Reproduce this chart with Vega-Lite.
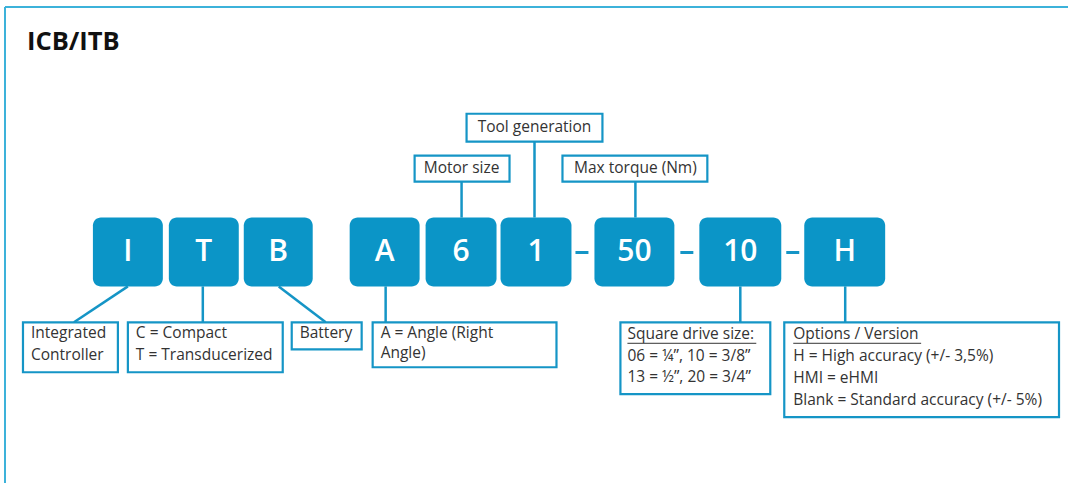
{
  "$schema": "https://vega.github.io/schema/vega-lite/v6.json",
  "width": 1069,
  "height": 484,
  "padding": 0,
  "autosize": {"type": "fit", "contains": "padding"},
  "background": "white",
  "config": {"view": {"stroke": null}},
  "datasets": {
    "frame": [
      {"x": 5, "y": 7, "x2": 5, "y2": 484},
      {"x": 5, "y": 7, "x2": 1069, "y2": 7}
    ],
    "connectors": [
      {"x": 128, "y": 287, "x2": 74, "y2": 323},
      {"x": 203, "y": 287, "x2": 203, "y2": 323},
      {"x": 279, "y": 287, "x2": 326, "y2": 323},
      {"x": 386, "y": 287, "x2": 386, "y2": 323},
      {"x": 741, "y": 287, "x2": 741, "y2": 323},
      {"x": 846, "y": 287, "x2": 846, "y2": 323},
      {"x": 462, "y": 182, "x2": 462, "y2": 218},
      {"x": 535, "y": 142, "x2": 535, "y2": 218},
      {"x": 636, "y": 182, "x2": 636, "y2": 218}
    ],
    "dashes": [
      {"x": 576, "x2": 589, "y": 253},
      {"x": 681, "x2": 694, "y": 253},
      {"x": 787, "x2": 800, "y": 253}
    ],
    "labelBoxes": [
      {"x": 23, "x2": 118, "y": 323, "y2": 373},
      {"x": 128, "x2": 283, "y": 323, "y2": 373},
      {"x": 292, "x2": 362, "y": 323, "y2": 350},
      {"x": 373, "x2": 557, "y": 323, "y2": 368},
      {"x": 621, "x2": 771, "y": 323, "y2": 395},
      {"x": 785, "x2": 1060, "y": 323, "y2": 418},
      {"x": 467, "x2": 603, "y": 114, "y2": 142},
      {"x": 415, "x2": 510, "y": 156, "y2": 182},
      {"x": 563, "x2": 708, "y": 156, "y2": 182}
    ],
    "codes": [
      {"code": "I", "x": 93, "x2": 163, "y": 218, "y2": 287},
      {"code": "T", "x": 169, "x2": 239, "y": 218, "y2": 287},
      {"code": "B", "x": 244, "x2": 313, "y": 218, "y2": 287},
      {"code": "A", "x": 350, "x2": 420, "y": 218, "y2": 287},
      {"code": "6", "x": 426, "x2": 497, "y": 218, "y2": 287},
      {"code": "1", "x": 501, "x2": 572, "y": 218, "y2": 287},
      {"code": "50", "x": 595, "x2": 675, "y": 218, "y2": 287},
      {"code": "10", "x": 700, "x2": 782, "y": 218, "y2": 287},
      {"code": "H", "x": 805, "x2": 886, "y": 218, "y2": 287}
    ],
    "leftText": [
      {"t": "Integrated", "x": 31, "y": 334},
      {"t": "Controller", "x": 31, "y": 356},
      {"t": "C = Compact", "x": 136, "y": 334},
      {"t": "T = Transducerized", "x": 136, "y": 356},
      {"t": "Battery", "x": 300, "y": 334},
      {"t": "A = Angle (Right", "x": 381, "y": 334},
      {"t": "Angle)", "x": 381, "y": 354},
      {"t": "Square drive size:", "x": 628, "y": 335},
      {"t": "06 = ¼”, 10 = 3/8”", "x": 628, "y": 357},
      {"t": "13 = ½”, 20 = 3/4”", "x": 628, "y": 378},
      {"t": "Options / Version", "x": 794, "y": 335},
      {"t": "H = High accuracy (+/- 3,5%)", "x": 794, "y": 357},
      {"t": "HMI = eHMI", "x": 794, "y": 379},
      {"t": "Blank = Standard accuracy (+/- 5%)", "x": 794, "y": 401}
    ],
    "underlines": [
      {"x": 628, "x2": 757, "y": 344},
      {"x": 794, "x2": 922, "y": 344}
    ],
    "topText": [
      {"t": "Tool generation", "x": 535, "y": 127},
      {"t": "Motor size", "x": 462, "y": 168},
      {"t": "Max torque (Nm)", "x": 636, "y": 168}
    ],
    "title": [
      {"t": "ICB/ITB", "x": 27, "y": 50}
    ]
  },
  "layer": [
    {
      "data": {"name": "frame"},
      "mark": {"type": "rule", "color": "#3cb2da", "strokeWidth": 2},
      "encoding": {
        "x": {"field": "x", "type": "quantitative", "scale": {"domain": [0, 1069], "nice": false, "zero": false}, "axis": null},
        "y": {"field": "y", "type": "quantitative", "scale": {"domain": [0, 484], "nice": false, "zero": false, "reverse": true}, "axis": null},
        "x2": {"field": "x2"},
        "y2": {"field": "y2"}
      }
    },
    {
      "data": {"name": "connectors"},
      "mark": {"type": "rule", "color": "#1595c6", "strokeWidth": 2.5},
      "encoding": {
        "x": {"field": "x", "type": "quantitative", "scale": {"domain": [0, 1069], "nice": false, "zero": false}, "axis": null},
        "y": {"field": "y", "type": "quantitative", "scale": {"domain": [0, 484], "nice": false, "zero": false, "reverse": true}, "axis": null},
        "x2": {"field": "x2"},
        "y2": {"field": "y2"}
      }
    },
    {
      "data": {"name": "dashes"},
      "mark": {"type": "rule", "color": "#1595c6", "strokeWidth": 3},
      "encoding": {
        "x": {"field": "x", "type": "quantitative", "scale": {"domain": [0, 1069], "nice": false, "zero": false}, "axis": null},
        "y": {"field": "y", "type": "quantitative", "scale": {"domain": [0, 484], "nice": false, "zero": false, "reverse": true}, "axis": null},
        "x2": {"field": "x2"}
      }
    },
    {
      "data": {"name": "labelBoxes"},
      "mark": {"type": "rect", "fill": "white", "stroke": "#1595c6", "strokeWidth": 2.2},
      "encoding": {
        "x": {"field": "x", "type": "quantitative", "scale": {"domain": [0, 1069], "nice": false, "zero": false}, "axis": null},
        "y": {"field": "y", "type": "quantitative", "scale": {"domain": [0, 484], "nice": false, "zero": false, "reverse": true}, "axis": null},
        "x2": {"field": "x2"},
        "y2": {"field": "y2"}
      }
    },
    {
      "data": {"name": "codes"},
      "mark": {"type": "rect", "fill": "#0b95c7", "cornerRadius": 8},
      "encoding": {
        "x": {"field": "x", "type": "quantitative", "scale": {"domain": [0, 1069], "nice": false, "zero": false}, "axis": null},
        "y": {"field": "y", "type": "quantitative", "scale": {"domain": [0, 484], "nice": false, "zero": false, "reverse": true}, "axis": null},
        "x2": {"field": "x2"},
        "y2": {"field": "y2"}
      }
    },
    {
      "data": {"name": "codes"},
      "transform": [
        {"calculate": "(datum.x + datum.x2) / 2", "as": "cx"}
      ],
      "mark": {"type": "text", "color": "white", "font": "Open Sans", "fontSize": 30, "fontWeight": 600, "align": "center", "baseline": "alphabetic"},
      "encoding": {
        "x": {"field": "cx", "type": "quantitative", "scale": {"domain": [0, 1069], "nice": false, "zero": false}, "axis": null},
        "y": {"datum": 262, "type": "quantitative", "scale": {"domain": [0, 484], "nice": false, "zero": false, "reverse": true}, "axis": null},
        "text": {"field": "code"}
      }
    },
    {
      "data": {"name": "leftText"},
      "mark": {"type": "text", "color": "#333333", "font": "Open Sans", "fontSize": 15.5, "align": "left", "baseline": "middle"},
      "encoding": {
        "x": {"field": "x", "type": "quantitative", "scale": {"domain": [0, 1069], "nice": false, "zero": false}, "axis": null},
        "y": {"field": "y", "type": "quantitative", "scale": {"domain": [0, 484], "nice": false, "zero": false, "reverse": true}, "axis": null},
        "text": {"field": "t"}
      }
    },
    {
      "data": {"name": "underlines"},
      "mark": {"type": "rule", "color": "#333333", "strokeWidth": 1},
      "encoding": {
        "x": {"field": "x", "type": "quantitative", "scale": {"domain": [0, 1069], "nice": false, "zero": false}, "axis": null},
        "y": {"field": "y", "type": "quantitative", "scale": {"domain": [0, 484], "nice": false, "zero": false, "reverse": true}, "axis": null},
        "x2": {"field": "x2"}
      }
    },
    {
      "data": {"name": "topText"},
      "mark": {"type": "text", "color": "#333333", "font": "Open Sans", "fontSize": 15.5, "align": "center", "baseline": "middle"},
      "encoding": {
        "x": {"field": "x", "type": "quantitative", "scale": {"domain": [0, 1069], "nice": false, "zero": false}, "axis": null},
        "y": {"field": "y", "type": "quantitative", "scale": {"domain": [0, 484], "nice": false, "zero": false, "reverse": true}, "axis": null},
        "text": {"field": "t"}
      }
    },
    {
      "data": {"name": "title"},
      "mark": {"type": "text", "color": "#111111", "font": "Open Sans", "fontSize": 25.5, "fontWeight": "bold", "align": "left", "baseline": "alphabetic"},
      "encoding": {
        "x": {"field": "x", "type": "quantitative", "scale": {"domain": [0, 1069], "nice": false, "zero": false}, "axis": null},
        "y": {"field": "y", "type": "quantitative", "scale": {"domain": [0, 484], "nice": false, "zero": false, "reverse": true}, "axis": null},
        "text": {"field": "t"}
      }
    }
  ]
}
